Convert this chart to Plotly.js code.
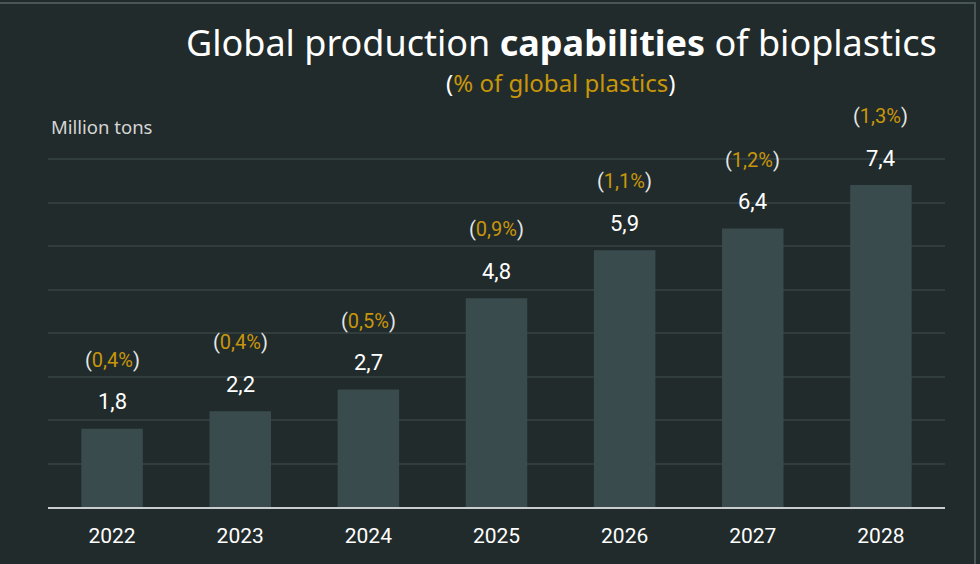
<!DOCTYPE html>
<html>
<head>
<meta charset="utf-8">
<script src="https://cdn.plot.ly/plotly-3.0.1.min.js"></script>
<style>
html,body{margin:0;padding:0;background:#212b2b;}
#chart{width:980px;height:564px;}
</style>
</head>
<body>
<div id="chart"></div>
<script>
const years = ['2022','2023','2024','2025','2026','2027','2028'];
const capacity = [1.8, 2.2, 2.7, 4.8, 5.9, 6.4, 7.4];
const valueLabels = ['1,8','2,2','2,7','4,8','5,9','6,4','7,4'];
const shareLabels = ['0,4%','0,4%','0,5%','0,9%','1,1%','1,2%','1,3%'];

const W = 980, H = 564, L = 48, R = 35, T = 155, B = 57;
const pw = W - L - R, ph = H - T - B;
const px = p => (p - L) / pw;
const py = q => (H - B - q) / ph;

const FONT = 'Roboto, "Noto Sans", sans-serif';
const GOLD = '#c8960a';

const annotations = [];
years.forEach((y, i) => {
  annotations.push({x: i, y: capacity[i], xref: 'x', yref: 'y', text: valueLabels[i],
    showarrow: false, yanchor: 'middle', yshift: 27,
    font: {family: FONT, size: 22, color: '#ffffff'}});
  annotations.push({x: i, y: capacity[i], xref: 'x', yref: 'y',
    text: '<span style="color:#e6e6e6">(</span>' + shareLabels[i] + '<span style="color:#e6e6e6">)</span>',
    showarrow: false, yanchor: 'middle', yshift: 69,
    font: {family: FONT, size: 20, color: GOLD}});
});
annotations.push({xref: 'paper', yref: 'paper', x: px(561), y: py(42), xanchor: 'center', yanchor: 'middle',
  text: 'Global production <b>capabilities</b> of bioplastics', showarrow: false,
  font: {family: '"Noto Sans", sans-serif', size: 36, color: '#ffffff'}});
annotations.push({xref: 'paper', yref: 'paper', x: px(561), y: py(82), xanchor: 'center', yanchor: 'middle',
  text: '<span style="color:#ffffff">(</span>% of global plastics<span style="color:#ffffff">)</span>', showarrow: false,
  font: {family: '"Noto Sans", sans-serif', size: 24, color: GOLD}});
annotations.push({xref: 'paper', yref: 'paper', x: px(49), y: py(127), xanchor: 'left', yanchor: 'middle',
  text: 'Million tons', showarrow: false,
  font: {family: '"Noto Sans", sans-serif', size: 18.5, color: '#d6d6d6'}});

const shapes = [
  {type: 'line', xref: 'paper', yref: 'paper', x0: px(0), x1: px(976), y0: py(3), y1: py(3), line: {color: '#4a5656', width: 2}},
  {type: 'line', xref: 'paper', yref: 'paper', x0: px(975), x1: px(975), y0: py(3), y1: py(564), line: {color: '#4a5656', width: 2}}
];

const data = [{
  type: 'bar', x: years, y: capacity, width: 0.48,
  marker: {color: '#3a4b4e', line: {width: 0}},
  hoverinfo: 'skip'
}];

const layout = {
  width: W, height: H,
  margin: {l: L, r: R, t: T, b: B, pad: 0},
  paper_bgcolor: '#212b2b', plot_bgcolor: '#212b2b',
  showlegend: false,
  xaxis: {type: 'category', range: [-0.5, 6.5], autorange: false, showgrid: false, showline: true, linecolor: '#c9cdcd', linewidth: 2,
    ticks: '', tickfont: {family: FONT, size: 21, color: '#ffffff'}, ticklabelstandoff: 9, zeroline: false},
  yaxis: {range: [0, 8 + 4 / 43.5], autorange: false, dtick: 1, showgrid: true, gridcolor: '#313d3d', gridwidth: 2,
    showticklabels: false, zeroline: false, ticks: ''},
  annotations: annotations,
  shapes: shapes
};

Plotly.newPlot('chart', data, layout, {displayModeBar: false, staticPlot: true});
</script>
</body>
</html>
